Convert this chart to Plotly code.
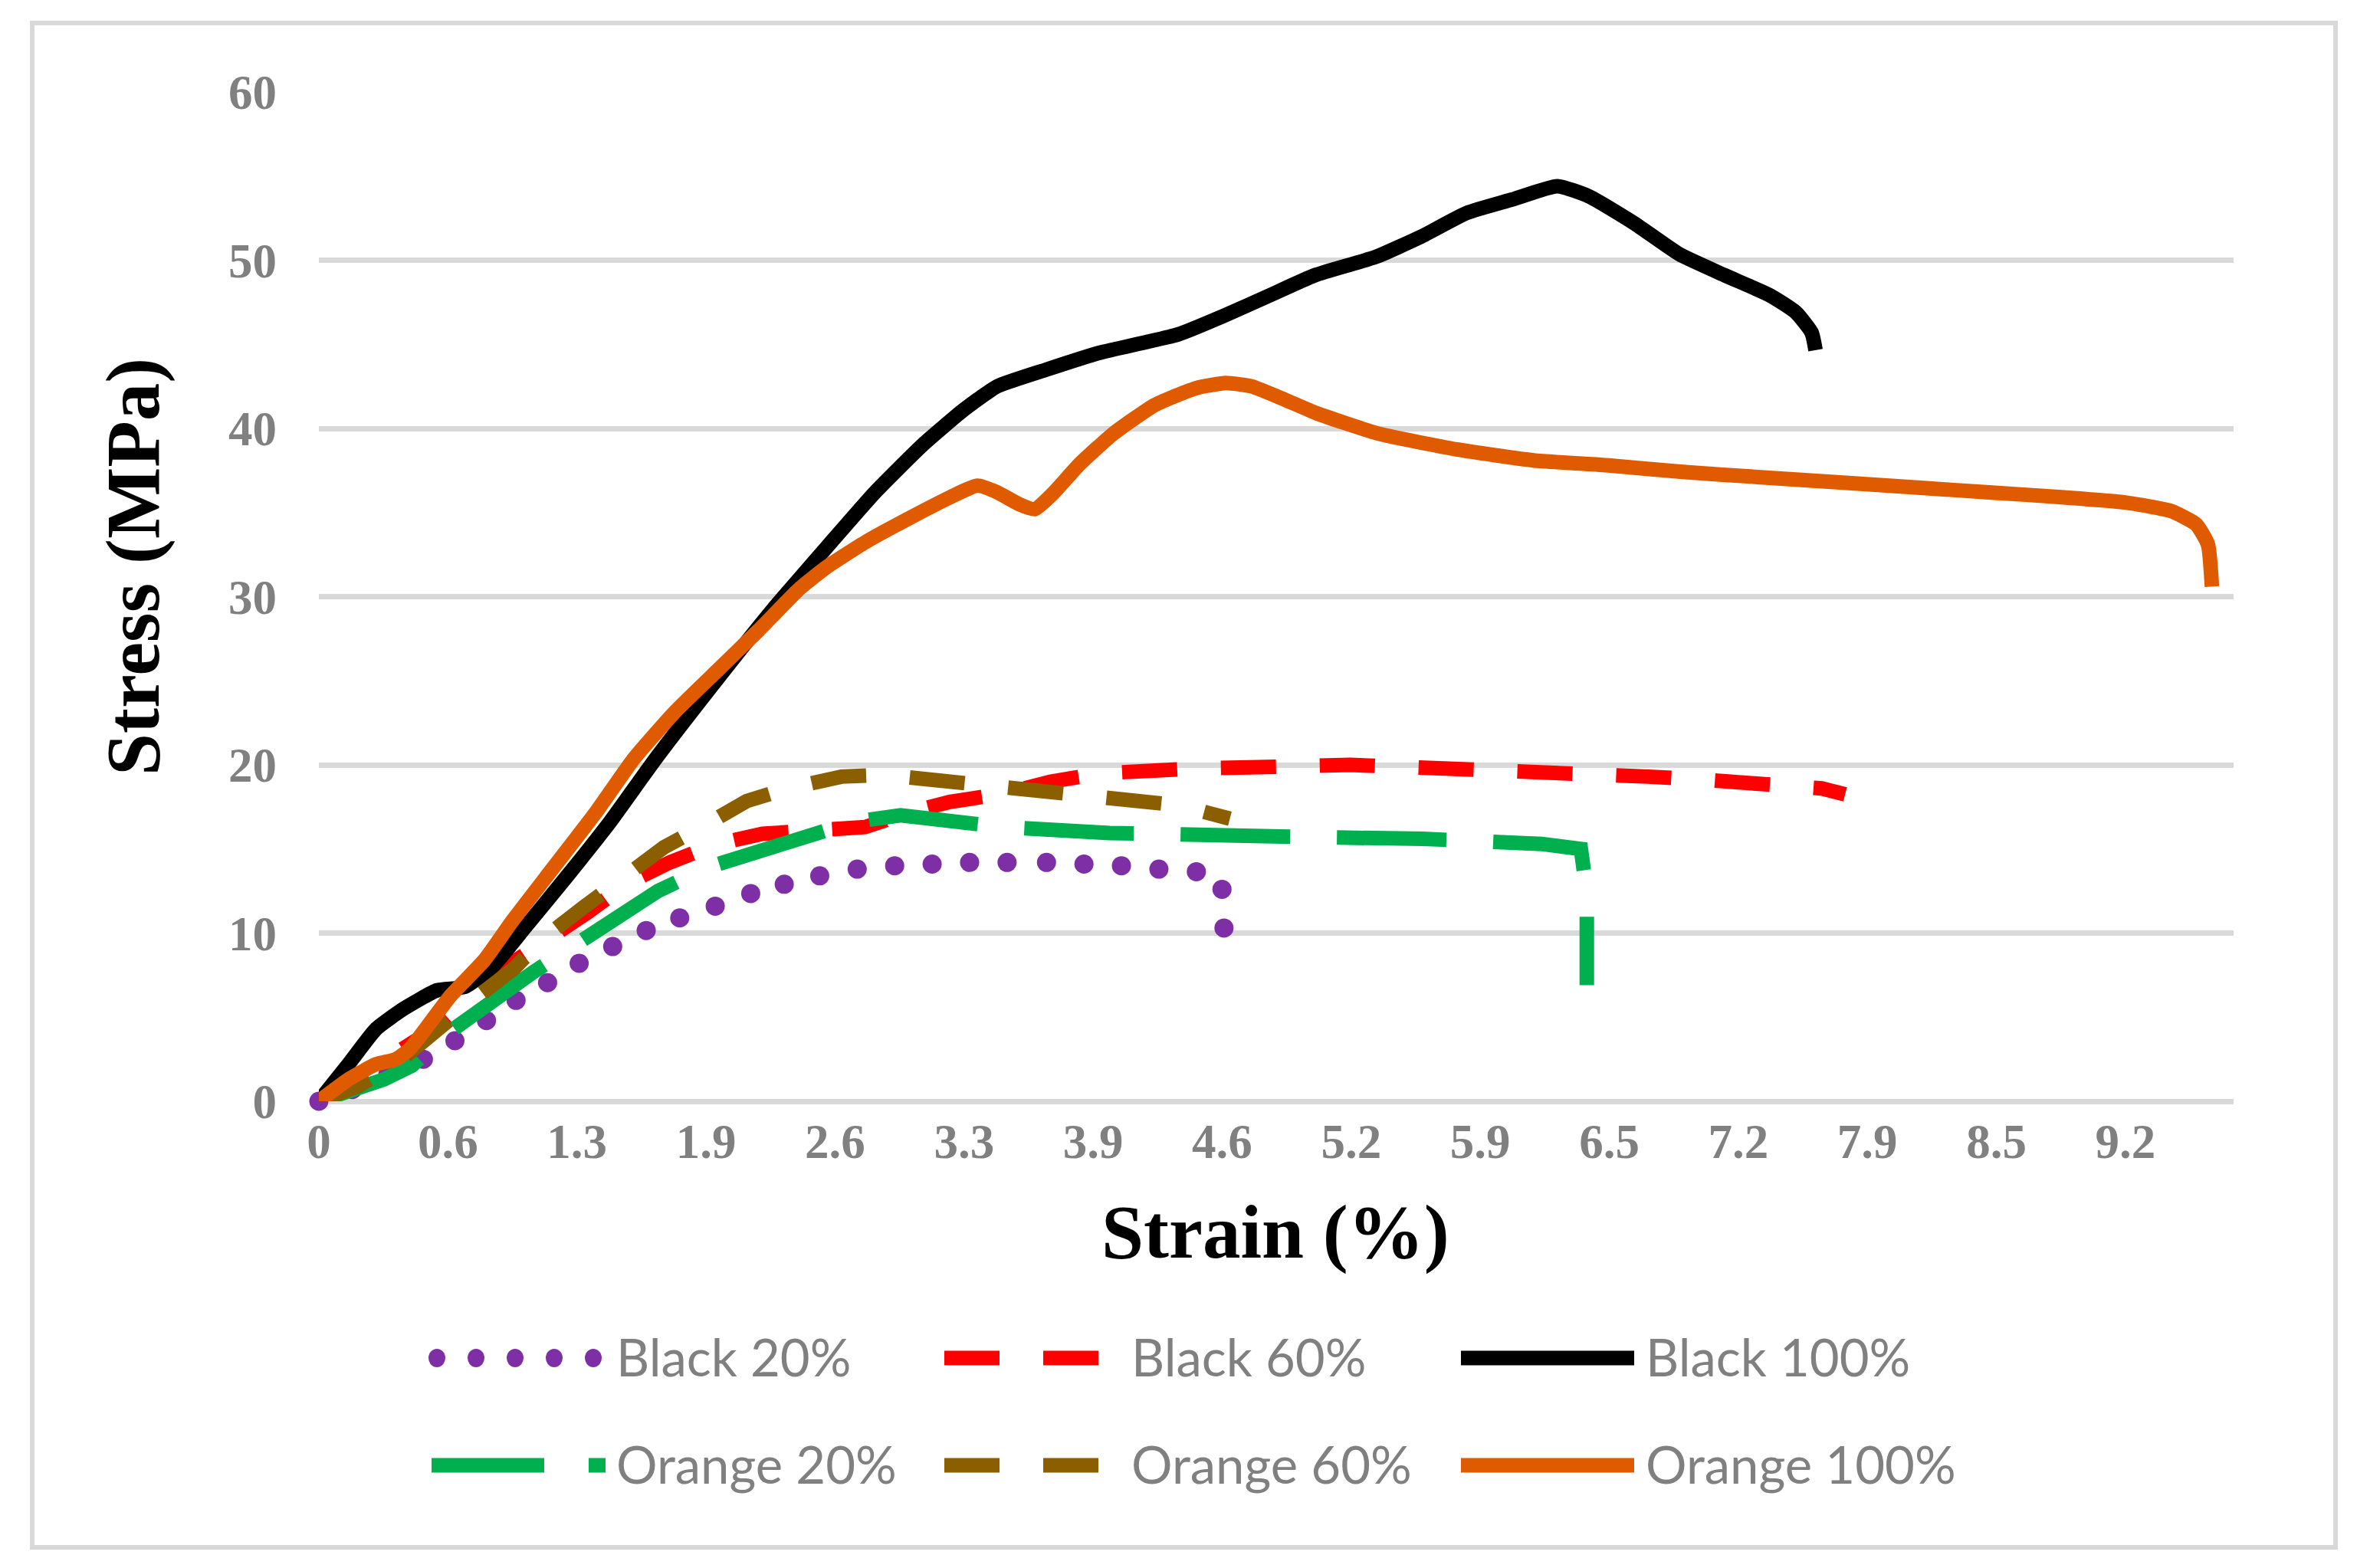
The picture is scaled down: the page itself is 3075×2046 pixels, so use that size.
import plotly.graph_objects as go

# ---------------- data ----------------
X_TICK_LABELS = ["0", "0.6", "1.3", "1.9", "2.6", "3.3", "3.9", "4.6", "5.2",
                 "5.9", "6.5", "7.2", "7.9", "8.5", "9.2"]
Y_TICKS = [0, 10, 20, 30, 40, 50, 60]

black20_x = [0, 0.17, 0.35, 0.53, 0.69, 0.85, 1.00, 1.16, 1.32, 1.49, 1.66, 1.83, 2.01,
             2.19, 2.36, 2.54, 2.73, 2.92, 3.11, 3.30, 3.49, 3.69, 3.88, 4.07, 4.26,
             4.45, 4.58, 4.59]
black20_y = [0, 0.7, 1.6, 2.5, 3.6, 4.8, 6.0, 7.05, 8.2, 9.2, 10.15, 10.9, 11.6,
             12.35, 12.9, 13.4, 13.8, 14.0, 14.1, 14.2, 14.2, 14.2, 14.1, 14.0, 13.8,
             13.65, 12.6, 10.3]

black60_x = [0, 0.2, 0.41, 0.61, 0.9, 1.17, 1.36, 1.57, 1.78, 2.02, 2.25, 2.51, 2.77,
             3.0, 3.2, 3.48, 3.71, 3.97, 4.2, 4.47, 4.72, 4.97, 5.23, 5.45, 5.74, 5.96,
             6.25, 6.47, 6.74, 6.98, 7.25, 7.47, 7.62, 7.74]
black60_y = [0, 1.2, 3.0, 4.5, 7.6, 9.6, 11.2, 13.0, 14.2, 15.3, 15.9, 16.1, 16.3,
             17.2, 17.8, 18.3, 19.0, 19.5, 19.7, 19.8, 19.85, 19.97, 20.0, 19.9, 19.8,
             19.7, 19.6, 19.45, 19.3, 19.15, 19.0, 18.8, 18.6, 18.25]

black100_x = [0, 0.15, 0.29, 0.43, 0.60, 0.74, 0.88, 1.05, 1.26, 1.47, 1.71, 2.02, 2.30,
              2.58, 2.82, 3.06, 3.27, 3.44, 3.69, 3.96, 4.36, 4.59, 4.82, 5.05, 5.36,
              5.59, 5.82, 6.05, 6.28, 6.44, 6.67, 6.90, 7.13, 7.36, 7.49, 7.57, 7.59]
black100_y = [0, 2.2, 4.3, 5.5, 6.6, 6.8, 8.0, 10.4, 13.4, 16.5, 20.4, 25.1, 29.2,
              33.0, 36.2, 39.0, 41.1, 42.5, 43.5, 44.5, 45.6, 46.7, 47.9, 49.1, 50.2,
              51.4, 52.8, 53.6, 54.4, 53.8, 52.2, 50.35, 49.1, 47.9, 46.9, 45.7, 44.65]

orange20_x = [0, 0.15, 0.27, 0.33, 0.47, 0.66, 1.09, 1.30, 1.72, 1.97, 2.45, 2.71, 2.95,
              3.21, 3.47, 4.01, 4.25, 4.82, 5.05, 5.60, 5.84, 6.20, 6.40, 6.43, 6.43]
orange20_y = [0, 0.6, 1.1, 1.3, 2.1, 4.1, 7.7, 9.3, 12.5, 13.9, 15.65, 16.6, 17.0,
              16.7, 16.3, 15.95, 15.85, 15.7, 15.7, 15.6, 15.5, 15.3, 15.0, 12.4, 6.9]

orange60_x = [0, 0.2, 0.4, 0.6, 0.78, 0.99, 1.14, 1.35, 1.53, 1.75, 1.94, 2.17, 2.38,
              2.65, 2.87, 3.15, 3.37, 3.65, 3.87, 4.15, 4.36, 4.62]
orange60_y = [0, 0.9, 2.3, 4.4, 6.0, 7.9, 9.7, 11.6, 13.3, 15.1, 16.3, 17.85, 18.6,
              19.3, 19.4, 19.1, 18.8, 18.5, 18.3, 18.0, 17.6, 16.8]

orange100_x = [0, 0.15, 0.29, 0.39, 0.46, 0.56, 0.67, 0.84, 0.98, 1.19, 1.40, 1.60, 1.81,
               2.02, 2.23, 2.44, 2.58, 2.78, 3.00, 3.20, 3.34, 3.44, 3.55, 3.63, 3.72,
               3.86, 4.03, 4.24, 4.45, 4.60, 4.73, 4.90, 5.06, 5.37, 5.77, 6.16, 6.54,
               6.93, 7.31, 7.70, 8.08, 8.47, 8.85, 9.16, 9.39, 9.52, 9.58, 9.60]
orange100_y = [0, 1.3, 2.2, 2.5, 3.1, 4.6, 6.3, 8.4, 10.7, 13.9, 17.1, 20.4, 23.2,
               25.6, 28.0, 30.5, 31.8, 33.3, 34.7, 35.9, 36.6, 36.2, 35.5, 35.2, 36.1,
               37.9, 39.7, 41.4, 42.4, 42.7, 42.5, 41.7, 40.9, 39.7, 38.75, 38.1, 37.8,
               37.4, 37.1, 36.8, 36.5, 36.2, 35.9, 35.6, 35.1, 34.3, 33.1, 30.6]

# ---------------- styling / layout constants ----------------
OFF = 8                          # page body margin of the generated html
W, H = 3075 - 2 * OFF, 2046 - 2 * OFF
# plot area edges in page pixels
PL, PR, PT, PB = 416, 2914, 120, 1437
L, T = PL - OFF, PT - OFF
R, B = W - (PR - OFF), H - (PB - OFF)
PW, PH = PR - PL, PB - PT
X_TICK_STEP = 0.6544
X_MAX = 9.71
LW = 19

C_PURPLE = "#7F2FA5"
C_RED = "#FF0000"
C_BLACK = "#000000"
C_GREEN = "#00B04F"
C_BROWN = "#8B5F00"
C_ORANGE = "#E05B00"
GRID = "#D9D9D9"
TXT_GREY = "#808080"
SERIF = "Liberation Serif"
SANS = "Lato"

DASH_SHORT = "72px,57px"
DASH_LONG = "143px,61px"


def px_x(px):
    return (px - PL) / PW


def px_y(py):
    return (PB - py) / PH


fig = go.Figure()

fig.add_trace(go.Scatter(x=black20_x, y=black20_y, mode="markers", name="Black 20%",
                         marker=dict(color=C_PURPLE, size=25, line=dict(width=0)),
                         cliponaxis=False))
fig.add_trace(go.Scatter(x=black60_x, y=black60_y, mode="lines", name="Black 60%",
                         line=dict(color=C_RED, width=LW, dash=DASH_SHORT)))
fig.add_trace(go.Scatter(x=black100_x, y=black100_y, mode="lines", name="Black 100%",
                         line=dict(color=C_BLACK, width=LW, shape="spline", smoothing=0.5)))
fig.add_trace(go.Scatter(x=orange20_x, y=orange20_y, mode="lines", name="Orange 20%",
                         line=dict(color=C_GREEN, width=LW, dash=DASH_LONG)))
fig.add_trace(go.Scatter(x=orange60_x, y=orange60_y, mode="lines", name="Orange 60%",
                         line=dict(color=C_BROWN, width=LW, dash=DASH_SHORT)))
fig.add_trace(go.Scatter(x=orange100_x, y=orange100_y, mode="lines", name="Orange 100%",
                         line=dict(color=C_ORANGE, width=LW, shape="spline", smoothing=0.5)))

tick_vals = [i * X_TICK_STEP for i in range(len(X_TICK_LABELS))]

fig.update_layout(
    width=W, height=H,
    margin=dict(l=L, r=R, t=T, b=B, autoexpand=False),
    paper_bgcolor="white", plot_bgcolor="white",
    showlegend=False,
    xaxis=dict(range=[0, X_MAX], tickmode="array", tickvals=tick_vals,
               ticktext=X_TICK_LABELS, showgrid=False, zeroline=False, showline=False,
               ticks="", automargin=False, ticklabelstandoff=10,
               tickfont=dict(family=SERIF, size=63, color=TXT_GREY, weight="bold")),
    yaxis=dict(range=[0, 60], tickmode="array", tickvals=Y_TICKS, showgrid=True,
               gridcolor=GRID, gridwidth=6.5, zeroline=True, zerolinecolor=GRID,
               zerolinewidth=6.5, showline=False, ticks="", automargin=False,
               ticklabelstandoff=54,
               tickfont=dict(family=SERIF, size=63, color=TXT_GREY, weight="bold")),
)

# axis titles
fig.add_annotation(text="Strain (%)", xref="paper", yref="paper", x=px_x(1664),
                   y=px_y(1608), xanchor="center", yanchor="middle", showarrow=False,
                   font=dict(family=SERIF, size=99, color="black", weight="bold"))
fig.add_annotation(text="Stress (MPa)", xref="paper", yref="paper", x=px_x(174),
                   y=px_y(740), xanchor="center", yanchor="middle", showarrow=False,
                   textangle=-90,
                   font=dict(family=SERIF, size=99, color="black", weight="bold"))

# outer chart border
fig.add_shape(type="rect", xref="paper", yref="paper", x0=px_x(42), x1=px_x(3047),
              y0=px_y(30), y1=px_y(2019), line=dict(color=GRID, width=6),
              fillcolor="rgba(0,0,0,0)", layer="below")

# custom legend (samples drawn as in the reference)
ROW1, ROW2 = 1772, 1912
legend_items = [
    ("Black 20%", ROW1, 570, 774, 806, C_PURPLE, "dots"),
    ("Black 60%", ROW1, 1232, 1440, 1478, C_RED, DASH_SHORT),
    ("Black 100%", ROW1, 1906, 2132, 2149, C_BLACK, "solid"),
    ("Orange 20%", ROW2, 563, 790, 806, C_GREEN, "147px,58px"),
    ("Orange 60%", ROW2, 1232, 1440, 1478, C_BROWN, DASH_SHORT),
    ("Orange 100%", ROW2, 1906, 2132, 2149, C_ORANGE, "solid"),
]
for name, ry, sx0, sx1, tx, col, dash in legend_items:
    if dash == "dots":
        n = 5
        for k in range(n):
            cx = sx0 + (sx1 - sx0) * k / (n - 1)
            fig.add_shape(type="circle", xref="paper", yref="paper",
                          xsizemode="pixel", ysizemode="pixel",
                          xanchor=px_x(cx), yanchor=px_y(ry),
                          x0=-11, x1=11, y0=-12, y1=12,
                          fillcolor=col, line=dict(width=0))
    else:
        fig.add_shape(type="line", xref="paper", yref="paper",
                      x0=px_x(sx0), x1=px_x(sx1), y0=px_y(ry), y1=px_y(ry),
                      line=dict(color=col, width=LW, dash=dash))
    fig.add_annotation(text=name, xref="paper", yref="paper", x=px_x(tx - 4),
                       y=px_y(ry - 2), xanchor="left", yanchor="middle", showarrow=False,
                       font=dict(family=SANS, size=67, color=TXT_GREY))

fig.write_html("out.html")
